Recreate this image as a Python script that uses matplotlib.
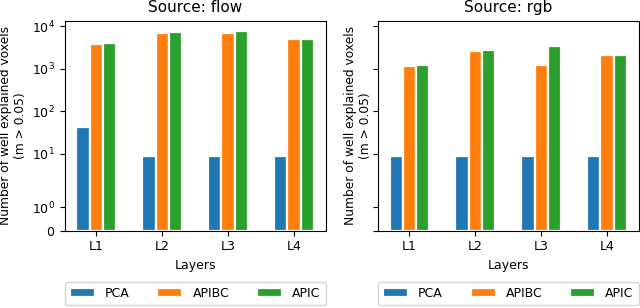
import numpy as np
import matplotlib
matplotlib.use("Agg")
import matplotlib.pyplot as plt
from matplotlib.ticker import FixedLocator, NullLocator

plt.rcParams['font.family'] = 'DejaVu Sans'
plt.rcParams['font.size'] = 9

# ================== 数据 ==================
layers = ["L1", "L2", "L3", "L4"]
methods = ["PCA", "APIBC", "APIC"]
colors = ["#1f77b4", "#ff7f0e", "#2ca02c"]

flow_pca = [42, 9, 9, 9]
flow_apibc = [3750, 6990, 6880, 4990]
flow_apic = [3960, 7250, 7780, 4970]

rgb_pca = [9, 9, 9, 9]
rgb_apibc = [1130, 2620, 1220, 2150]
rgb_apic = [1220, 2815, 3430, 2150]

panels = [
    ("Source: flow", [flow_pca, flow_apibc, flow_apic]),
    ("Source: rgb", [rgb_pca, rgb_apibc, rgb_apic]),
]

# ================== 画图 ==================
fig = plt.figure(figsize=(6.4, 3.08), dpi=100)
W, H = 640.0, 308.0
ax1 = fig.add_axes([64.5 / W, 1 - 230.7 / H, 261.2 / W, 210.0 / H])
ax2 = fig.add_axes([377.7 / W, 1 - 230.7 / H, 261.0 / W, 210.0 / H], sharey=ax1)

x = np.arange(len(layers))
width = 0.2
offsets = [-0.2, 0.0, 0.2]
label_x = [-0.1436, -0.02]   # y 轴标签的位置（axes 坐标）

for i, (ax, (title, series)) in enumerate(zip([ax1, ax2], panels)):
    for vals, name, c, off in zip(series, methods, colors, offsets):
        ax.bar(x + off, vals, width, label=name, color=c,
               edgecolor="white", linewidth=1.6)
    ax.set_yscale("symlog", linthresh=2, linscale=1)
    ax.set_xticks(x)
    ax.set_xticklabels(layers)
    ax.set_xlabel("Layers")
    ax.set_ylabel("Number of well explained voxels\n(m > 0.05)", fontsize=8.8)
    ax.yaxis.set_label_coords(label_x[i], 0.5)
    ax.set_title(title, fontsize=11)
    ax.yaxis.set_major_locator(FixedLocator([0, 1, 10, 100, 1000, 10000]))
    ax.yaxis.set_minor_locator(NullLocator())
    ax.legend(ncol=3, loc="upper left", mode="expand",
              bbox_to_anchor=(0.0, -0.245, 1.0, 0.0), borderaxespad=0.0)

ax1.set_ylim(0, 13500)
plt.setp(ax2.get_yticklabels(), visible=False)

plt.savefig("out.png", dpi=100)
